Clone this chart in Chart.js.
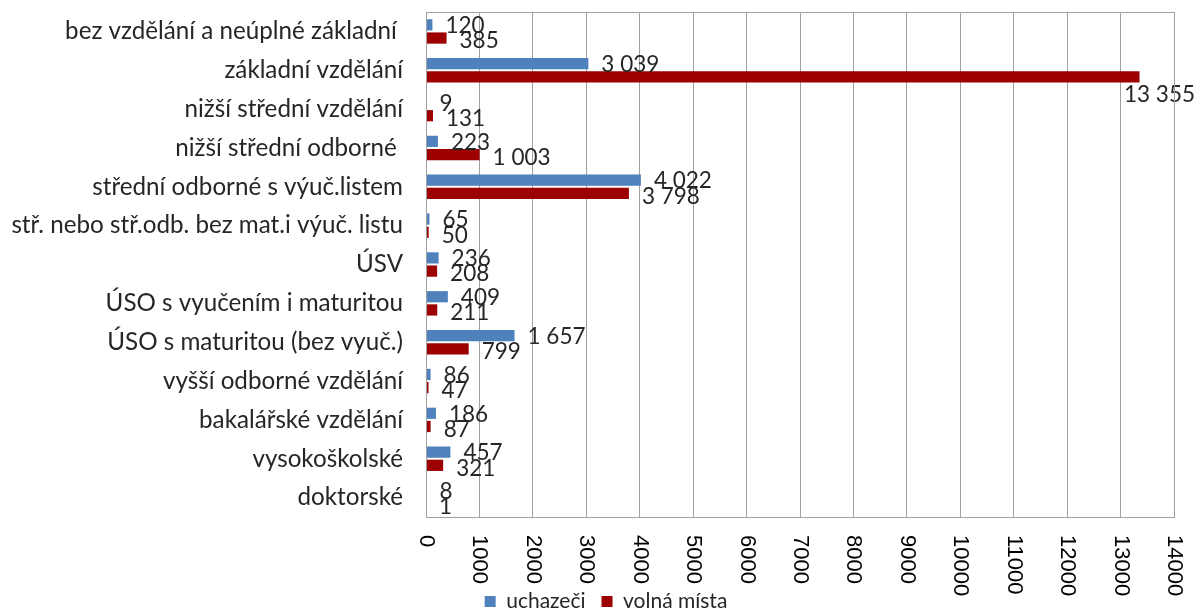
<!DOCTYPE html>
<html>
<head>
<meta charset="utf-8">
<script src="https://cdn.jsdelivr.net/npm/chart.js@4.4.1/dist/chart.umd.min.js"></script>
<style>
    html, body { margin: 0; padding: 0; background: #fff; }
    #wrap { width: 1196px; height: 612px; position: relative; }
</style>
</head>
<body>
<div id="wrap"><canvas id="eduChart"></canvas></div>
<script>
const categories = [
    "bez vzdělání a neúplné základní ",
    "základní vzdělání",
    "nižší střední vzdělání",
    "nižší střední odborné ",
    "střední odborné s výuč.listem",
    "stř. nebo stř.odb. bez mat.i výuč. listu",
    "ÚSV",
    "ÚSO s vyučením i maturitou",
    "ÚSO s maturitou (bez vyuč.)",
    "vyšší odborné vzdělání",
    "bakalářské vzdělání",
    "vysokoškolské",
    "doktorské"
];
const uchazeci = [120, 3039, 9, 223, 4022, 65, 236, 409, 1657, 86, 186, 457, 8];
const volnaMista = [385, 13355, 131, 1003, 3798, 50, 208, 211, 799, 47, 87, 321, 1];
const xTicks = [0, 1000, 2000, 3000, 4000, 5000, 6000, 7000, 8000, 9000, 10000, 11000, 12000, 13000, 14000];

const gridColor = "#a0a0a0";
const textColor = "#262626";

function formatValue(v) {
    return String(v).replace(/\B(?=(\d{3})+(?!\d))/g, " ");
}

// value labels at the bar ends, like Excel "outside end"
const valueLabels = {
    id: "valueLabels",
    afterDatasetsDraw(chart) {
        const ctx = chart.ctx;
        ctx.save();
        ctx.font = "22.5px Lato";
        ctx.fillStyle = textColor;
        ctx.textAlign = "left";
        ctx.textBaseline = "middle";
        chart.data.datasets.forEach((ds, di) => {
            const meta = chart.getDatasetMeta(di);
            meta.data.forEach((bar, i) => {
                const text = formatValue(ds.data[i]);
                const w = ctx.measureText(text).width;
                let x = bar.x + 13;
                let y = bar.y + (di === 0 ? 1 : 3);
                if (x + w > chart.width - 1) {
                    x = chart.width - 1 - w;
                    y += 15;
                }
                ctx.fillText(text, x, y);
            });
        });
        ctx.restore();
    }
};

// plot frame + rotated x tick labels (reading top to bottom)
const frameAndTicks = {
    id: "frameAndTicks",
    afterLayout(chart) {
        // legend sits a bit right of centre in the original
        if (chart.legend) {
            chart.legend.left += 19;
            chart.legend.right += 19;
        }
    },
    afterDraw(chart) {
        const ctx = chart.ctx;
        const area = chart.chartArea;
        const xScale = chart.scales.x;
        ctx.save();
        ctx.strokeStyle = gridColor;
        ctx.lineWidth = 1;
        ctx.strokeRect(Math.round(area.left) + 0.5, Math.round(area.top) + 0.5,
            Math.round(area.right - area.left), Math.round(area.bottom - area.top));
        ctx.font = "22px 'Liberation Sans'";
        ctx.fillStyle = "#000";
        ctx.textAlign = "left";
        ctx.textBaseline = "middle";
        xTicks.forEach(v => {
            const px = xScale.getPixelForValue(v);
            ctx.save();
            ctx.translate(px, area.bottom + 18);
            ctx.rotate(Math.PI / 2);
            ctx.fillText(String(v), 0, 0);
            ctx.restore();
        });
        ctx.restore();
    }
};

new Chart(document.getElementById("eduChart"), {
    type: "bar",
    data: {
        labels: categories,
        datasets: [
            {
                label: "uchazeči",
                data: uchazeci,
                backgroundColor: "#4f81bd",
                barPercentage: 0.85,
                categoryPercentage: 0.68
            },
            {
                label: "volná místa",
                data: volnaMista,
                backgroundColor: "#9c0000",
                barPercentage: 0.85,
                categoryPercentage: 0.68
            }
        ]
    },
    options: {
        indexAxis: "y",
        responsive: true,
        maintainAspectRatio: false,
        animation: false,
        layout: { padding: { top: 12, right: 22, left: 0, bottom: -10 } },
        plugins: {
            legend: {
                position: "bottom",
                labels: {
                    color: textColor,
                    font: { family: "Lato", size: 21 },
                    boxWidth: 11,
                    boxHeight: 11,
                    padding: 16
                }
            },
            tooltip: { enabled: false }
        },
        scales: {
            x: {
                min: 0,
                max: 14000,
                ticks: { display: false, stepSize: 1000 },
                grid: { color: gridColor, drawTicks: false },
                border: { display: false },
                afterFit: scale => { scale.height = 58; }
            },
            y: {
                ticks: {
                    color: textColor,
                    font: { family: "Lato", size: 24.2 },
                    padding: 23
                },
                grid: { display: false, drawTicks: false },
                border: { display: false },
                afterFit: scale => {
                    scale.width = 426;
                    scale.paddingTop = 0;
                    scale.paddingBottom = 0;
                }
            }
        }
    },
    plugins: [valueLabels, frameAndTicks]
});
</script>
</body>
</html>
